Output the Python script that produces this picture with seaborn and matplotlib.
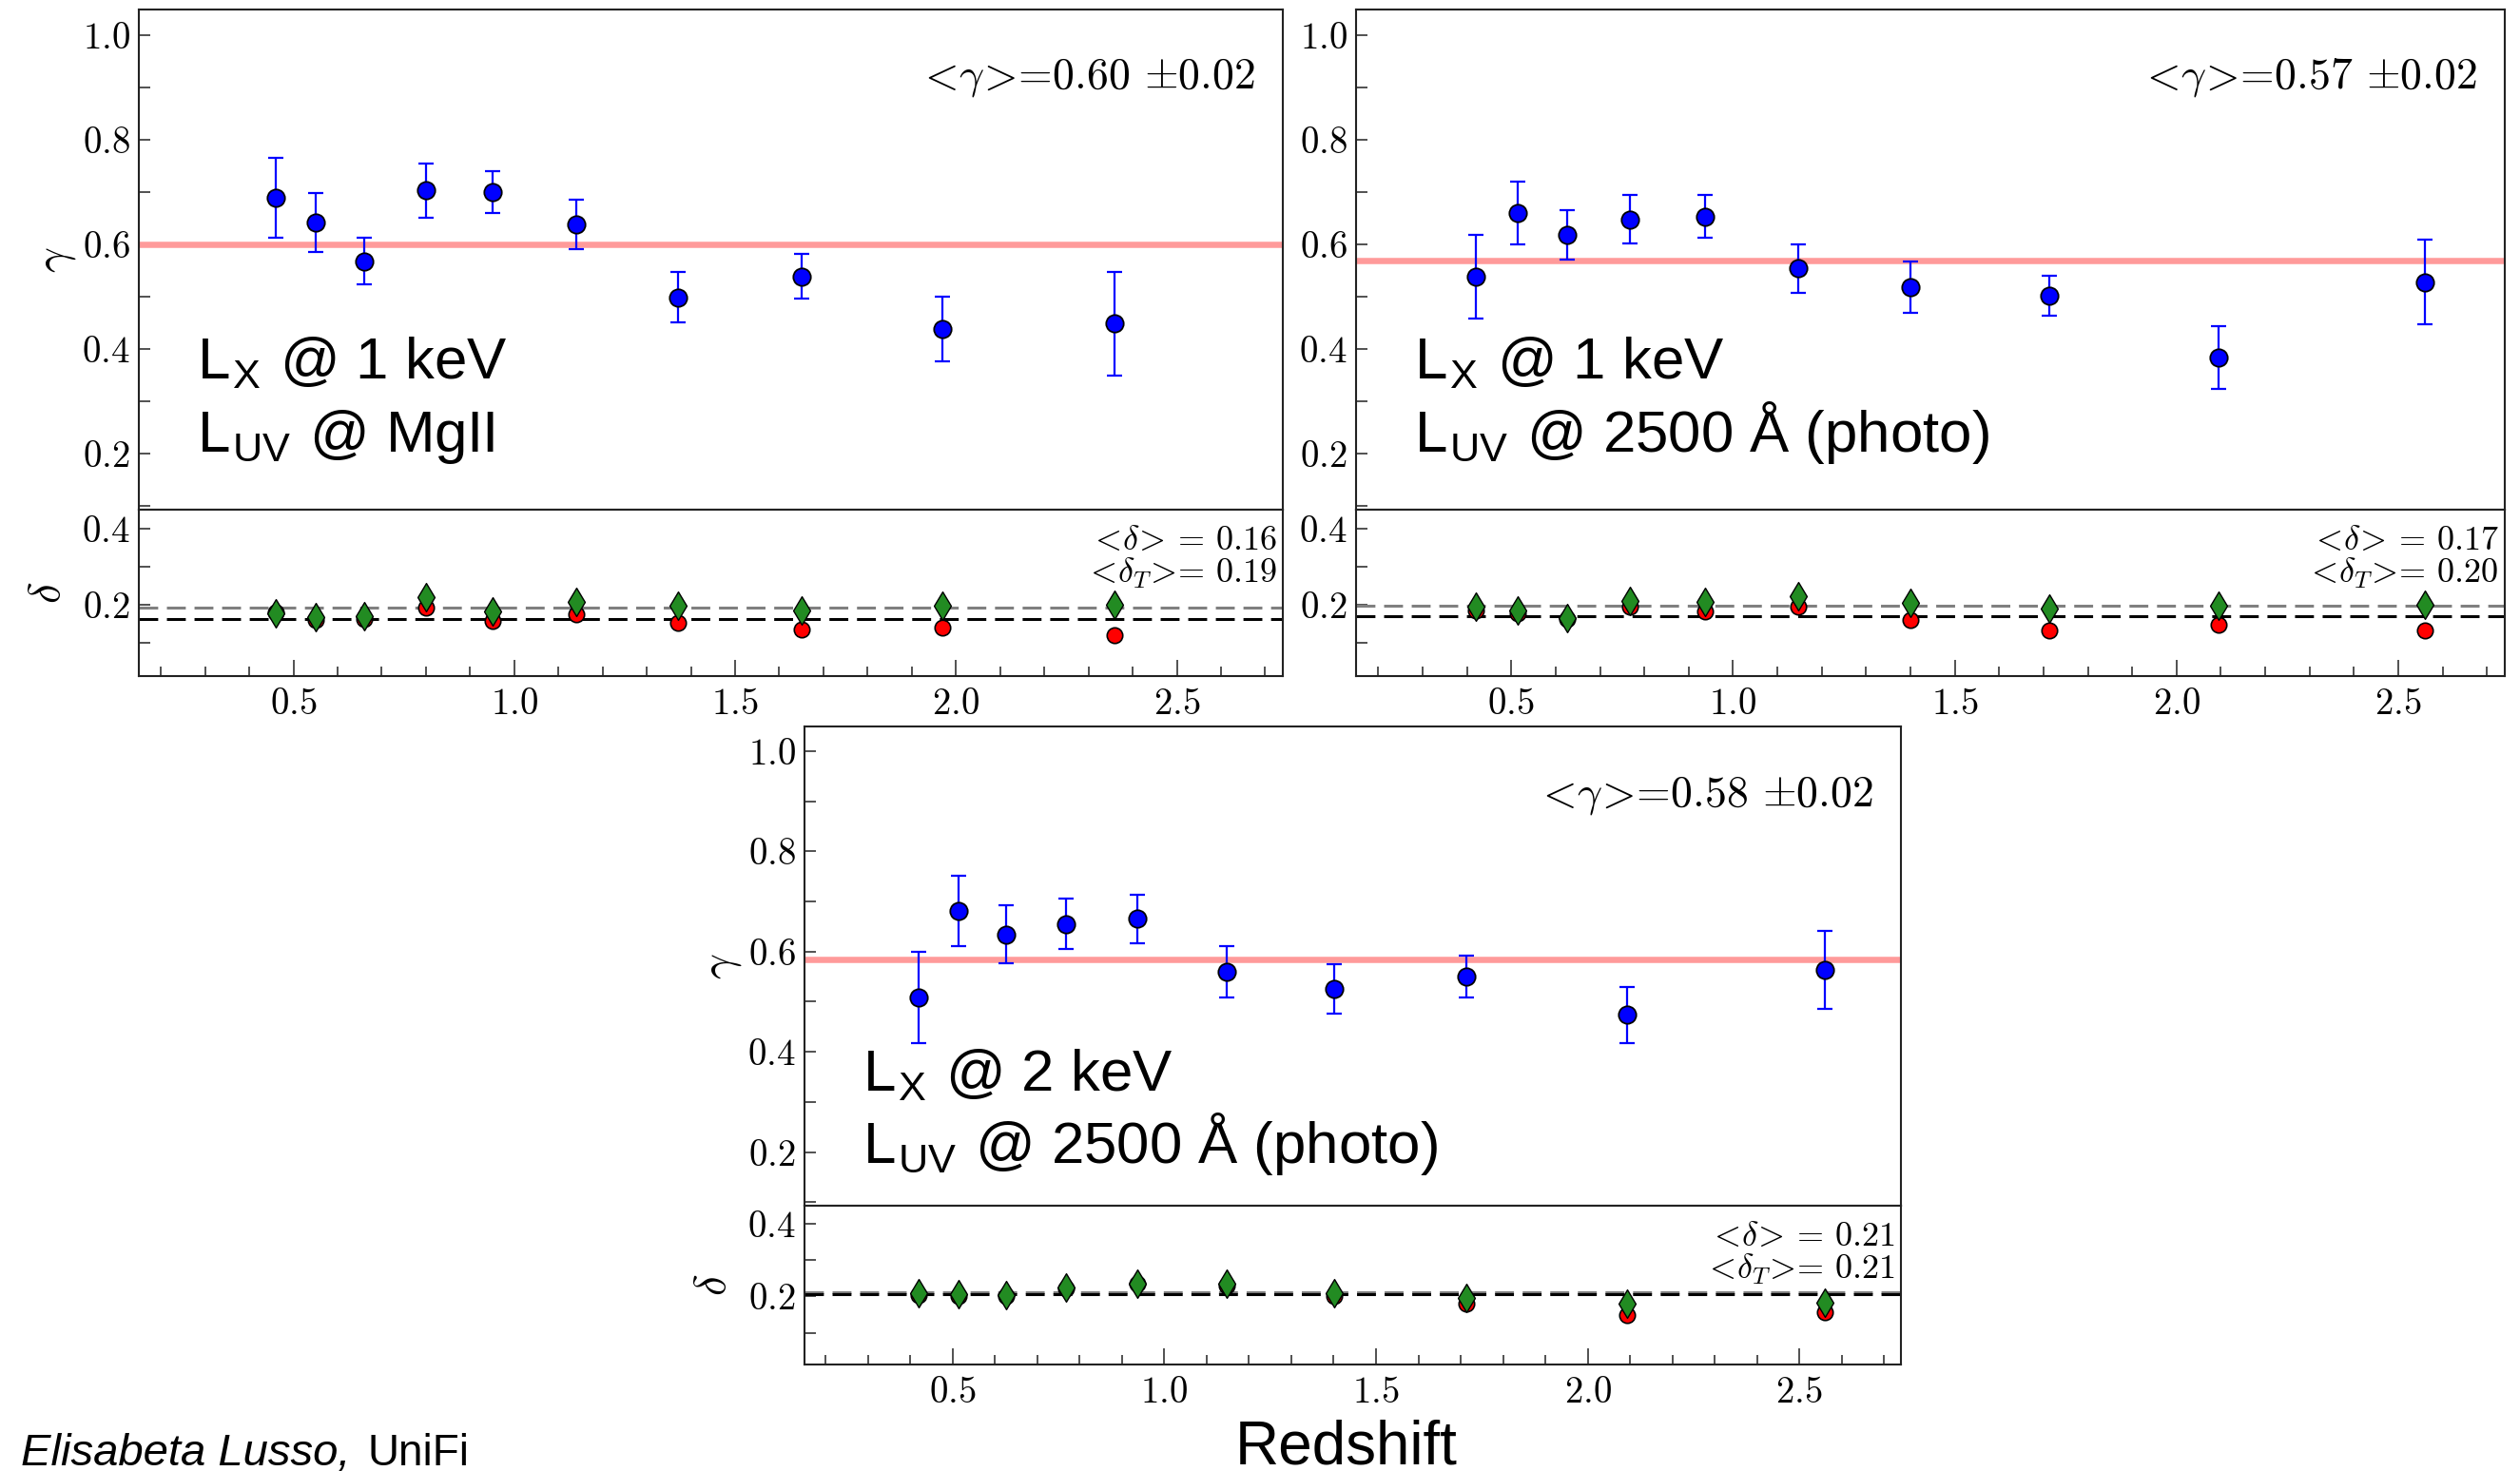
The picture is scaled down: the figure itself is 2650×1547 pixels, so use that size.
import matplotlib
matplotlib.use("Agg")
import matplotlib.pyplot as plt
import seaborn as sns
from matplotlib.ticker import MultipleLocator

# ---- data -------------------------------------------------------------
# redshift bin centres
z_mgii = [0.46, 0.55, 0.66, 0.80, 0.95, 1.14, 1.37, 1.65, 1.97, 2.36]
z_photo = [0.42, 0.515, 0.626, 0.767, 0.937, 1.147, 1.401, 1.713, 2.094, 2.56]

# L_X @ 1 keV vs L_UV @ MgII
gamma_mgii = [0.689, 0.642, 0.568, 0.703, 0.700, 0.638, 0.499, 0.539, 0.439, 0.449]
gamma_mgii_err = [0.077, 0.056, 0.045, 0.052, 0.040, 0.047, 0.048, 0.043, 0.062, 0.099]
delta_mgii = [0.179, 0.159, 0.163, 0.193, 0.157, 0.175, 0.153, 0.136, 0.141, 0.120]
deltaT_mgii = [0.178, 0.167, 0.171, 0.219, 0.182, 0.207, 0.197, 0.186, 0.198, 0.200]

# L_X @ 1 keV vs L_UV @ 2500 A (photometric)
gamma_1kev = [0.539, 0.660, 0.618, 0.648, 0.653, 0.554, 0.518, 0.502, 0.384, 0.528]
gamma_1kev_err = [0.080, 0.060, 0.047, 0.046, 0.041, 0.046, 0.049, 0.038, 0.060, 0.081]
delta_1kev = [0.186, 0.178, 0.163, 0.194, 0.183, 0.194, 0.161, 0.133, 0.148, 0.132]
deltaT_1kev = [0.194, 0.186, 0.165, 0.211, 0.207, 0.222, 0.204, 0.190, 0.198, 0.200]

# L_X @ 2 keV vs L_UV @ 2500 A (photometric)
gamma_2kev = [0.509, 0.681, 0.634, 0.655, 0.665, 0.559, 0.525, 0.550, 0.474, 0.564]
gamma_2kev_err = [0.091, 0.070, 0.058, 0.050, 0.048, 0.051, 0.049, 0.042, 0.056, 0.078]
delta_2kev = [0.205, 0.200, 0.200, 0.221, 0.236, 0.229, 0.200, 0.179, 0.150, 0.157]
deltaT_2kev = [0.210, 0.207, 0.205, 0.225, 0.236, 0.234, 0.210, 0.196, 0.179, 0.183]

# averages over all bins
gamma_mean = [0.600, 0.569, 0.584]
gamma_mean_err = [0.02, 0.02, 0.02]
delta_mean = [0.162, 0.171, 0.206]
deltaT_mean = [0.192, 0.198, 0.212]

panel_labels = [
    (r"L$_{\mathregular{X}}$ @ 1 keV", r"L$_{\mathregular{UV}}$ @ MgII"),
    (r"L$_{\mathregular{X}}$ @ 1 keV", r"L$_{\mathregular{UV}}$ @ 2500 Å (photo)"),
    (r"L$_{\mathregular{X}}$ @ 2 keV", r"L$_{\mathregular{UV}}$ @ 2500 Å (photo)"),
]

# ---- style ------------------------------------------------------------
sns.set_style("ticks")
plt.rcParams.update({
    "font.family": "serif",
    "font.serif": ["cmr10"],
    "mathtext.fontset": "cm",
    "axes.formatter.use_mathtext": True,
    "axes.linewidth": 1.5,
    "axes.edgecolor": "#222222",
    "text.color": "black",
    "axes.labelcolor": "black",
    "xtick.direction": "in",
    "ytick.direction": "in",
    "xtick.color": "#222222",
    "ytick.color": "#222222",
    "xtick.labelcolor": "black",
    "ytick.labelcolor": "black",
})

W, H = 2650, 1547
fig = plt.figure(figsize=(W / 100, H / 100), dpi=100)


def box(l, t, r, b):
    return [l / W, 1 - b / H, (r - l) / W, (b - t) / H]


def fig_xy(x, y):
    return x / W, 1 - y / H


SANS = "Liberation Sans"
TICK_FS = 28


def style_axes(ax):
    for sp in ax.spines.values():
        sp.set_visible(True)
        sp.set_linewidth(1.5)
        sp.set_color("#222222")
    ax.set_xlim(0.15, 2.74)
    ax.yaxis.set_major_locator(MultipleLocator(0.2))
    ax.yaxis.set_minor_locator(MultipleLocator(0.1))
    ax.tick_params(axis="y", which="both", left=True, right=False,
                   length=8.6, width=1.1, labelsize=TICK_FS, pad=6.5)
    ax.set_xlabel("")


def draw_panel(l, r, t, mid, b, z, gam, gam_err, dl, dlT, gmean, gerr,
               dmean, dTmean, labels, label_base, ylabels=True):
    axg = fig.add_axes(box(l, t, r, mid))
    axd = fig.add_axes(box(l, mid, r, b), sharex=axg)

    # gamma vs redshift
    axg.axhline(gmean, color="#ff9a9a", lw=4.7, zorder=1)
    axg.errorbar(z, gam, yerr=gam_err, fmt="none", ecolor="blue",
                 elinewidth=1.6, capsize=6, capthick=1.6, zorder=2)
    sns.scatterplot(x=z, y=gam, ax=axg, color="blue", edgecolor="black",
                    linewidth=1.3, s=175, marker="o", zorder=3, legend=False)
    style_axes(axg)
    axg.set_ylim(0.093, 1.049)
    axg.tick_params(axis="x", which="both", bottom=False, top=False,
                    labelbottom=False)
    axg.set_ylabel(r"$\gamma$" if ylabels else "", fontsize=34)
    axg.yaxis.set_label_coords(-64 / (r - l), 0.5)

    # scatter of the relation
    axd.axhline(dTmean, color="gray", lw=2.2, ls=(0, (6.5, 3)), zorder=1)
    axd.axhline(dmean, color="black", lw=2.2, ls=(0, (6.5, 3)), zorder=1)
    sns.scatterplot(x=z, y=dl, ax=axd, color="red", edgecolor="black",
                    linewidth=1.2, s=140, marker="o", zorder=3, legend=False)
    sns.scatterplot(x=z, y=dlT, ax=axd, color="forestgreen",
                    edgecolor="black", linewidth=1.0, s=230, marker="d",
                    zorder=4, legend=False)
    style_axes(axd)
    axd.set_ylim(0.0125, 0.45)
    axd.xaxis.set_major_locator(MultipleLocator(0.5))
    axd.xaxis.set_minor_locator(MultipleLocator(0.1))
    axd.tick_params(axis="x", which="major", bottom=True, top=False,
                    length=12, width=1.1, labelsize=TICK_FS, pad=9)
    axd.tick_params(axis="x", which="minor", bottom=True, top=False,
                    length=7, width=1.1)
    axd.set_ylabel(r"$\delta$" if ylabels else "", fontsize=34)
    axd.yaxis.set_label_coords(-74 / (r - l), 0.5)

    # annotations
    fig.text(*fig_xy(r - 29, t + 83),
             rf"$<\!\gamma\!>\!$={gmean:.2f} $\pm${gerr:.2f}",
             fontsize=33, ha="right", va="baseline")
    fig.text(*fig_xy(r - 6, mid + 42), rf"$<\!\delta\!>\!$ = {dmean:.2f}",
             fontsize=26, ha="right", va="baseline")
    fig.text(*fig_xy(r - 6, mid + 77), rf"$<\!\delta_T\!>\!$= {dTmean:.2f}",
             fontsize=26, ha="right", va="baseline")
    fig.text(*fig_xy(l + 61, label_base[0]), labels[0], family=SANS,
             fontsize=44.5, ha="left", va="baseline")
    fig.text(*fig_xy(l + 61, label_base[1]), labels[1], family=SANS,
             fontsize=44.5, ha="left", va="baseline")
    return axg, axd


draw_panel(146, 1349, 10, 536, 711, z_mgii, gamma_mgii, gamma_mgii_err,
           delta_mgii, deltaT_mgii, gamma_mean[0], gamma_mean_err[0],
           delta_mean[0], deltaT_mean[0], panel_labels[0], (398, 475))
draw_panel(1426, 2634, 10, 536, 711, z_photo, gamma_1kev, gamma_1kev_err,
           delta_1kev, deltaT_1kev, gamma_mean[1], gamma_mean_err[1],
           delta_mean[1], deltaT_mean[1], panel_labels[1], (398, 475),
           ylabels=False)
axg3, axd3 = draw_panel(846, 1999, 764, 1268, 1435, z_photo, gamma_2kev,
                        gamma_2kev_err, delta_2kev, deltaT_2kev,
                        gamma_mean[2], gamma_mean_err[2], delta_mean[2],
                        deltaT_mean[2], panel_labels[2], (1147, 1223))

axd3.set_xlabel("Redshift", family=SANS, fontsize=46)
axd3.xaxis.set_label_coords((1416 - 846) / (1999 - 846),
                            (1435 - 1492) / (1435 - 1268))

fig.text(*fig_xy(22, 1541), "Elisabeta Lusso,", family=SANS, style="italic",
         fontsize=34, ha="left", va="baseline")
fig.text(*fig_xy(386, 1541), "UniFi", family=SANS, fontsize=33,
         ha="left", va="baseline")

fig.savefig("out.png", dpi=100, facecolor="white")
